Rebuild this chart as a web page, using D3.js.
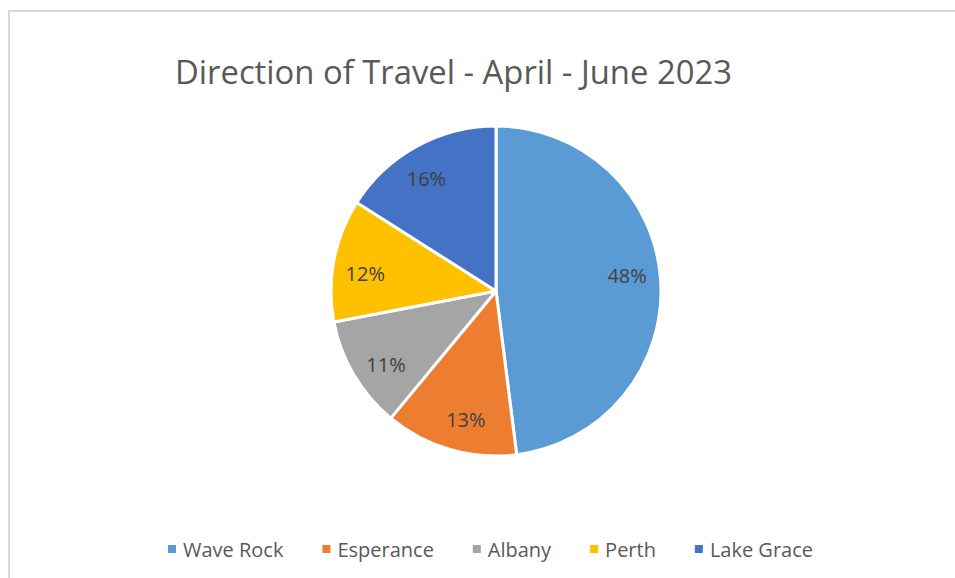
<!DOCTYPE html>
<html>
<head>
<meta charset="utf-8">
<script src="https://cdn.jsdelivr.net/npm/d3@7"></script>
<style>
  html, body { margin: 0; padding: 0; background: #fff; }
  svg { display: block; }
</style>
</head>
<body>
<svg id="chart" width="955" height="578"></svg>
<script>
// Direction of travel shares, April - June 2023
const categories = ["Wave Rock", "Esperance", "Albany", "Perth", "Lake Grace"];
const shares = [48, 13, 11, 12, 16];
const colors = ["#5B9BD5", "#ED7D31", "#A5A5A5", "#FFC000", "#4472C4"];
const titleText = "Direction of Travel - April - June 2023";

const width = 955, height = 578;
const svg = d3.select("#chart");
const fontFamily = "'Open Sans', 'DejaVu Sans', sans-serif";

// chart frame
svg.append("rect")
  .attr("x", 9).attr("y", 11)
  .attr("width", width + 10).attr("height", height + 10)
  .attr("fill", "#fff")
  .attr("stroke", "#d9d9d9")
  .attr("stroke-width", 2);

// fit a text element to a target width by scaling its font size
function fitWidth(sel, target) {
  const w = sel.node().getComputedTextLength();
  const fs = parseFloat(sel.attr("font-size"));
  sel.attr("font-size", fs * target / w);
}

// title
const title = svg.append("text")
  .attr("x", 175).attr("y", 84)
  .attr("font-family", fontFamily)
  .attr("font-size", 28)
  .attr("fill", "#595959")
  .text(titleText);
fitWidth(title, 557);

// pie
const cx = 496, cy = 291, radius = 165;
const color = d3.scaleOrdinal().domain(categories).range(colors);
const data = categories.map((c, i) => ({ name: c, value: shares[i] }));

const pie = d3.pie().value(d => d.value).sort(null);
const arc = d3.arc().innerRadius(0).outerRadius(radius);

const g = svg.append("g").attr("transform", `translate(${cx},${cy})`);
const arcs = pie(data);

g.selectAll("path.slice")
  .data(arcs)
  .join("path")
  .attr("class", "slice")
  .attr("d", arc)
  .attr("fill", d => color(d.data.name))
  .attr("stroke", "#fff")
  .attr("stroke-width", 3)
  .attr("stroke-linejoin", "round");

// percentage labels sit a little before each slice's mid-angle, at 0.8 r
const labelR = radius * 0.8, labelTurn = -3 * Math.PI / 180;
g.selectAll("text.pct")
  .data(arcs)
  .join("text")
  .attr("class", "pct")
  .attr("transform", d => {
    const a = (d.startAngle + d.endAngle) / 2 + labelTurn;
    return `translate(${labelR * Math.sin(a)},${-labelR * Math.cos(a)})`;
  })
  .attr("text-anchor", "middle")
  .attr("dominant-baseline", "central")
  .attr("font-family", fontFamily)
  .attr("font-size", 20)
  .attr("fill", "#404040")
  .text(d => d.data.value + "%");

// legend
const legend = svg.append("g").attr("class", "legend");
const legendY = 549;
const markerSize = 8, markerGap = 7;
const items = legend.selectAll("g.item")
  .data(categories)
  .join("g")
  .attr("class", "item");
items.append("rect")
  .attr("width", markerSize).attr("height", markerSize)
  .attr("y", legendY - markerSize / 2)
  .attr("fill", d => color(d));
items.append("text")
  .attr("y", legendY)
  .attr("dominant-baseline", "central")
  .attr("font-family", fontFamily)
  .attr("font-size", 20)
  .attr("fill", "#595959")
  .text(d => d);

// lay out legend items left to right across the span 168..813
const widths = [];
items.each(function () {
  widths.push(d3.select(this).select("text").node().getComputedTextLength());
});
const left = 168, right = 813;
const inner = widths.reduce((a, w) => a + markerSize + markerGap + w, 0);
const itemGap = (right - left - inner) / (widths.length - 1);
let x = left;
items.each(function (d, i) {
  const it = d3.select(this);
  it.select("rect").attr("x", x);
  it.select("text").attr("x", x + markerSize + markerGap);
  x += markerSize + markerGap + widths[i] + itemGap;
});
</script>
</body>
</html>
